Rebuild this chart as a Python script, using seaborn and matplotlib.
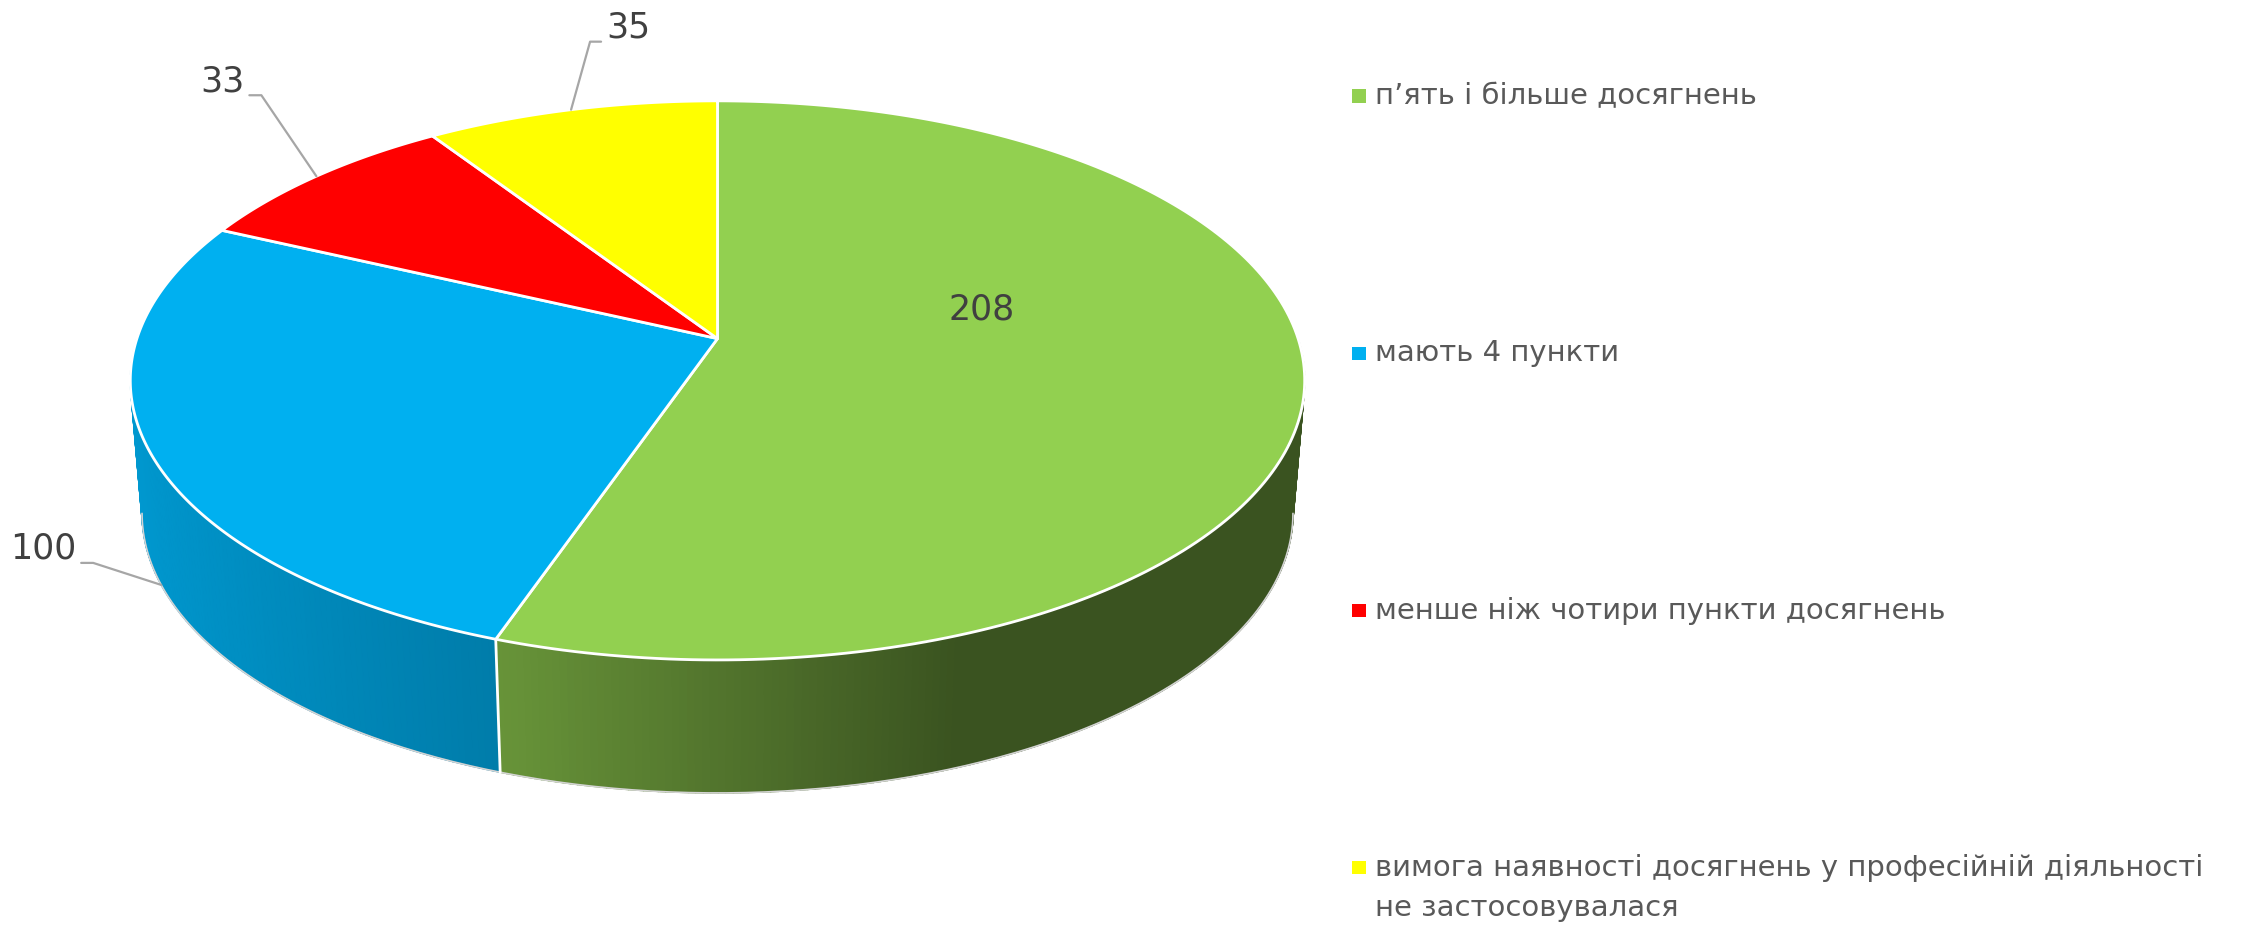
import numpy as np
import matplotlib.pyplot as plt
import seaborn as sns
from matplotlib.colors import to_rgb

sns.set_style("white")
plt.rcParams['font.family'] = ['DejaVu Sans']

# data
categories = [
    "п’ять і більше досягнень",
    "мають 4 пункти",
    "менше ніж чотири пункти досягнень",
    "вимога наявності досягнень у професійній діяльності\nне застосовувалася",
]
values = [208, 100, 33, 35]
colors = ["#92D050", "#00B0F0", "#FF0000", "#FFFF00"]

# canvas in pixel units
W, H = 2259, 926
fig = plt.figure(figsize=(W / 100, H / 100), dpi=100)
ax = fig.add_axes([0, 0, 1, 1])
ax.set_xlim(0, W)
ax.set_ylim(H, 0)
ax.axis("off")

# tilted disc with a bit of perspective
CX, CY = 717.5, 338.6
RX, RY = 580.6, 273.3
PERSP = 0.1495
DEPTH = 133
BOTTOM_SHRINK = 0.02  # bottom face is a little farther from the eye


def project(theta, r=1.0, drop=0.0):
    u = r * np.sin(theta)
    v = -r * np.cos(theta)
    w = 1 - PERSP * v
    s = 1 - BOTTOM_SHRINK * drop / DEPTH
    return CX + s * RX * u / w, CY + RY * v / w + drop


def shade(theta):
    # side lighting comes from the left
    return np.interp(np.sin(theta), [-1, -0.3, 0.35, 1], [0.87, 0.70, 0.40, 0.40])


total = sum(values)
bounds = np.concatenate([[0], np.cumsum(values)]) / total * 2 * np.pi

# side walls (front half only)
strips = []
for i, c in enumerate(colors):
    t = np.linspace(bounds[i], bounds[i + 1], max(int(values[i] * 1.5), 8))
    tf = t[-np.cos(t) >= 0]
    if len(tf) < 2:
        continue
    # solid underlay of the wall piece, so strip seams never show white
    tx, ty = project(tf)
    bx, by = project(tf[::-1], drop=DEPTH)
    base = np.array(to_rgb(c)) * shade(tf[0] if tf[0] > np.pi else tf[-1])
    ax.fill(np.r_[tx, bx], np.r_[ty, by], color=base, lw=0)
    for a, b in zip(tf[:-1], tf[1:]):
        strips.append((-np.cos((a + b) / 2), a, b, c))
strips.sort(key=lambda s: s[0])
for _, a, b, c in strips:
    x0, y0 = project(a)
    x1, y1 = project(b)
    x2, y2 = project(b, drop=DEPTH)
    x3, y3 = project(a, drop=DEPTH)
    col = np.array(to_rgb(c)) * shade((a + b) / 2)
    ax.fill([x0, x1, x2, x3], [y0, y1, y2, y3], color=col, lw=1.0, ec=col)

# faint outline along the visible bottom rim
edge = np.arccos(-PERSP)
tb = np.linspace(edge, 2 * np.pi - edge, 300)
bx, by = project(tb, drop=DEPTH)
ax.plot(bx, by, color="#d4d4d4", lw=1.2)

# white edges between slices on the wall
for a in bounds[:-1]:
    if -np.cos(a) > 0:
        x0, y0 = project(a)
        x1, y1 = project(a, drop=DEPTH)
        ax.plot([x0, x1], [y0, y1], color="white", lw=2)

# top faces
for i, c in enumerate(colors):
    t = np.linspace(bounds[i], bounds[i + 1], 200)
    ex, ey = project(t)
    ax.fill(np.r_[CX, ex], np.r_[CY, ey], facecolor=c, edgecolor="white",
            lw=2, joinstyle="round")

# value labels
text_kw = dict(color="#404040", fontsize=25)
mids = (bounds[:-1] + bounds[1:]) / 2

# inside label for the big slice
lx, ly = project(mids[0], r=0.5)
ax.text(lx - 26, ly - 52, str(values[0]), ha="center", va="center", **text_kw)

# outside labels with leader lines: (slice, drop, elbow dx, elbow dy, side)
leaders = [(3, 0, 19, -68, "right"), (2, 0, -55, -81, "left"), (1, DEPTH, -68, -22, "left")]
for idx, drop, dx, dy, side in leaders:
    px, py = project(mids[idx], drop=drop)
    ex, ey = px + dx, py + dy
    hx = ex + (11 if side == "right" else -12)
    ax.plot([px, ex, hx], [py, ey, ey], color="#a6a6a6", lw=1.6)
    tx = hx + (5 if side == "right" else -5)
    ax.text(tx, ey - 14, str(values[idx]),
            ha="left" if side == "right" else "right", va="center", **text_kw)

# legend
leg_x, leg_y0, leg_gap, line_gap = 1359, 96, 257.3, 40
for i, (lab, c) in enumerate(zip(categories, colors)):
    y = leg_y0 + i * leg_gap
    ax.scatter([leg_x], [y], marker="s", s=88, color=c, edgecolors="none")
    for j, line in enumerate(lab.split("\n")):
        ax.text(leg_x + 16, y + j * line_gap, line, ha="left", va="center",
                color="#595959", fontsize=21)

plt.savefig("out.png", dpi=100)
plt.close()
